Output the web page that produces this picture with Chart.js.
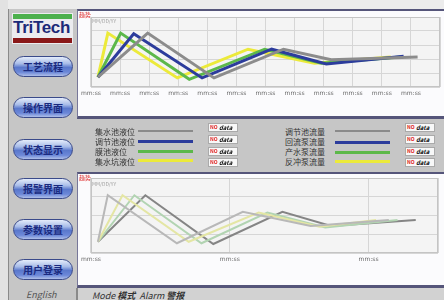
<!DOCTYPE html>
<html><head><meta charset="utf-8">
<script src="https://cdn.jsdelivr.net/npm/chart.js@4"></script>
<style>
html,body{margin:0;padding:0;width:444px;height:300px;overflow:hidden;background:#c6c6c6;font-family:"Noto Sans CJK SC","DejaVu Sans",sans-serif;}
.a{position:absolute;}
.btn{position:absolute;left:13px;width:60px;height:21px;border-radius:11px;border:1px solid #3a4a8a;box-sizing:border-box;
background:linear-gradient(to bottom,#e4ecfa 0%,#a8bce8 35%,#5a78cc 55%,#6c88d8 80%,#aebee8 100%);
color:#1a2a80;font-size:10px;font-weight:bold;text-align:center;line-height:19px;letter-spacing:0px;}
.panel{position:absolute;left:77px;width:367px;background:#fbfbfd;border-top:2px solid #55557a;border-bottom:3px solid #55557a;border-left:1px solid #777799;box-sizing:border-box;}
.lt{position:absolute;font-size:8px;line-height:9px;color:#333;white-space:nowrap;}
.ln{position:absolute;height:3px;}
.box{position:absolute;width:30px;height:9px;background:#f8f8f8;border:1px solid #aaa;box-sizing:border-box;font-size:6px;line-height:8px;font-style:italic;font-weight:bold;color:#111;padding-left:10px;}
.box span{position:absolute;left:1px;top:-1px;color:#e02020;font-style:normal;font-size:5px;}
.red{position:absolute;font-size:6px;color:#e03030;line-height:6px;}
.mdy{position:absolute;font-size:5px;color:#a0a0a0;line-height:6px;}
</style></head>
<body>
<div class="a" style="left:0;top:0;width:444px;height:9px;background:#ececec"></div>
<div class="a" style="left:0;top:0;width:8px;height:300px;background:#e2e2e2"></div>
<div class="a" style="left:8px;top:9px;width:1px;height:291px;background:#8a8a8a"></div>
<div class="a" style="left:12px;top:13px;width:61px;height:31px;background:#ececef"></div>
<div class="a" style="left:13px;top:14px;width:59px;height:5px;background:#4cb04c"></div>
<div class="a" style="left:13px;top:18px;width:60px;font-family:'Liberation Sans',sans-serif;font-weight:bold;font-size:17px;line-height:20px;color:#1c2a78;letter-spacing:-0.3px">TriTech</div>
<div class="a" style="left:13px;top:38px;width:59px;height:5px;background:#8a1818"></div>
<div class="btn" style="top:56px">工艺流程</div>
<div class="btn" style="top:97px">操作界面</div>
<div class="btn" style="top:139px">状态显示</div>
<div class="btn" style="top:178px">报警界面</div>
<div class="btn" style="top:219px">参数设置</div>
<div class="btn" style="top:259px">用户登录</div>
<div class="a" style="left:26px;top:290px;font-size:9px;font-style:italic;color:#555;line-height:10px">English</div>

<div class="panel" style="top:9px;height:110px"></div>
<canvas id="top" class="a" width="366" height="104" style="left:78px;top:12px"></canvas>
<div class="red" style="left:79px;top:12px">趋势</div>
<div class="mdy" style="left:92px;top:18px">MM/DD/YY</div>

<div class="lt" style="left:95px;top:127px">集水池液位</div>
<div class="lt" style="left:95px;top:137px">调节池液位</div>
<div class="lt" style="left:95px;top:147px">膜池液位</div>
<div class="lt" style="left:95px;top:157px">集水坑液位</div>
<div class="ln" style="left:138px;top:130px;width:55px;height:2px;background:#8a8a8a"></div>
<div class="ln" style="left:138px;top:140px;width:55px;background:#2c3c9c"></div>
<div class="ln" style="left:138px;top:150px;width:55px;background:#5cb84a"></div>
<div class="ln" style="left:138px;top:159px;width:55px;background:#ecea3a"></div>
<div class="box" style="left:208px;top:123px"><span>NO</span>data</div>
<div class="box" style="left:208px;top:135px"><span>NO</span>data</div>
<div class="box" style="left:208px;top:147px"><span>NO</span>data</div>
<div class="box" style="left:208px;top:158px"><span>NO</span>data</div>

<div class="lt" style="left:285px;width:40px;text-align:right;top:127px">调节池流量</div>
<div class="lt" style="left:285px;width:40px;text-align:right;top:137px">回流泵流量</div>
<div class="lt" style="left:285px;width:40px;text-align:right;top:147px">产水泵流量</div>
<div class="lt" style="left:285px;width:40px;text-align:right;top:157px">反冲泵流量</div>
<div class="ln" style="left:335px;top:130px;width:55px;height:2px;background:#8a8a8a"></div>
<div class="ln" style="left:335px;top:141px;width:55px;background:#2c3c9c"></div>
<div class="ln" style="left:335px;top:151px;width:55px;background:#5cb84a"></div>
<div class="ln" style="left:335px;top:160px;width:55px;background:#ecea3a"></div>
<div class="box" style="left:405px;top:123px"><span>NO</span>data</div>
<div class="box" style="left:405px;top:135px"><span>NO</span>data</div>
<div class="box" style="left:405px;top:147px"><span>NO</span>data</div>
<div class="box" style="left:405px;top:158px"><span>NO</span>data</div>

<div class="panel" style="top:172px;height:116px"></div>
<canvas id="bot" class="a" width="366" height="111" style="left:78px;top:174px"></canvas>
<div class="red" style="left:79px;top:175px">趋势</div>
<div class="mdy" style="left:92px;top:181px">MM/DD/YY</div>

<div class="a" style="left:76px;top:288px;width:368px;height:12px;background:#d2d2d2;border-left:2px solid #8a8a8a"></div>
<div class="a" style="left:92px;top:291px;font-size:9px;font-style:italic;color:#333;line-height:10px;white-space:nowrap">Mode <b>模式</b>&nbsp;&nbsp;Alarm <b>警报</b></div>

<script>
// ---- data (x in time units, y in percent) ----
const topTickValues = [0,1,2,3,4,5,6,7,8,9,10,11,12];
const topTickLabels = ['mm:ss','mm:ss','mm:ss','mm:ss','mm:ss','mm:ss','mm:ss','mm:ss','mm:ss','mm:ss','mm:ss','mm:ss',''];
const botTickValues = [0,4.8,9.6,12];
const botTickLabels = ['mm:ss','mm:ss','mm:ss',''];

const topYellowX = [0.24,0.58,2.97,5.4,7.68,10.31];
const topYellowY = [14,77,13,54,34,43];
const topGreenX  = [0.24,1.02,3.38,5.97,7.92,10.65];
const topGreenY  = [14,77,11,54,34,43];
const topBlueX   = [0.24,1.47,3.82,6.21,8.09,10.75];
const topBlueY   = [14,76,13,54,33,44];
const topGreyX   = [0.24,1.95,4.23,6.62,8.26,11.23];
const topGreyY   = [14,77,13,54,39,43];

const botLightGreyX = [0.24,0.58,2.97,5.25,7.6,10.3];
const botLightGreyY = [15,77,13,55,36,44];
const botPaleYellowX = [0.24,1.09,3.38,5.8,7.9,9.86];
const botPaleYellowY = [15,77,15,54,35,44];
const botPaleGreenX = [0.24,1.5,3.82,6.1,8.1,10.6];
const botPaleGreenY = [15,77,13,54,34,44];
const botDarkGreyX = [0.24,1.88,4.23,6.62,8.3,11.23];
const botDarkGreyY = [15,77,12,55,36,44];

const pts = (xs, ys) => xs.map((x,i)=>({x, y: ys[i]}));

const plotFrame = {
  id:'plotFrame',
  beforeDraw(chart){
    const {ctx, chartArea:a} = chart;
    ctx.save(); ctx.fillStyle = '#f4f4f4'; ctx.fillRect(a.left,a.top,a.width,a.height); ctx.restore();
  },
  beforeDatasetsDraw(chart){
    const {ctx, chartArea:a} = chart;
    ctx.save(); ctx.strokeStyle = '#c4c4c4'; ctx.lineWidth = 1;
    ctx.strokeRect(Math.round(a.left)+0.5, Math.round(a.top)+0.5, Math.round(a.width)-1, Math.round(a.height)-1);
    ctx.restore();
  }
};

function makeChart(id, datasets, tickValues, tickLabels, yStep, pad){
  return new Chart(document.getElementById(id), {
    type:'line',
    data:{datasets},
    options:{
      responsive:false, maintainAspectRatio:false, animation:false,
      layout:{padding:pad},
      plugins:{legend:{display:false}, tooltip:{enabled:false}},
      elements:{point:{radius:0}, line:{tension:0, borderJoinStyle:'miter'}},
      scales:{
        x:{type:'linear', min:0, max:12,
          afterBuildTicks:s=>{ s.ticks = tickValues.map(v=>({value:v})); },
          afterFit:s=>{ s.height = 20; },
          grid:{color:'#d6d6d6', drawTicks:false},
          border:{display:false},
          ticks:{autoSkip:false, maxRotation:0, padding:3, color:'#666', font:{size:6, family:'DejaVu Sans'},
            callback:(v,i)=>tickLabels[i]}
        },
        y:{min:0, max:100,
          ticks:{display:false, stepSize:yStep},
          afterFit:s=>{ s.width = 0; },
          grid:{color:'#d6d6d6', drawTicks:false},
          border:{display:false}
        }
      }
    },
    plugins:[plotFrame]
  });
}

makeChart('top', [
  {data:pts(topGreyX,topGreyY), borderColor:'#8c8c8c', borderWidth:3},
  {data:pts(topBlueX,topBlueY), borderColor:'#2c3c9c', borderWidth:3},
  {data:pts(topGreenX,topGreenY), borderColor:'#5cb84a', borderWidth:3},
  {data:pts(topYellowX,topYellowY), borderColor:'#ecea3a', borderWidth:3}
], topTickValues, topTickLabels, 20, {left:10, right:4, top:5, bottom:9});

makeChart('bot', [
  {data:pts(botLightGreyX,botLightGreyY), borderColor:'#b8b8b8', borderWidth:2},
  {data:pts(botPaleYellowX,botPaleYellowY), borderColor:'#e4e6a4', borderWidth:2},
  {data:pts(botPaleGreenX,botPaleGreenY), borderColor:'#b2d4b2', borderWidth:2},
  {data:pts(botDarkGreyX,botDarkGreyY), borderColor:'#858585', borderWidth:2}
], botTickValues, botTickLabels, 25, {left:10, right:6, top:4, bottom:12});
</script>
</body></html>
